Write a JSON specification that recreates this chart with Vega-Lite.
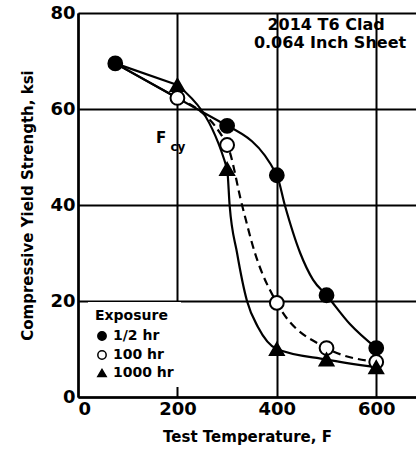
{
  "$schema": "https://vega.github.io/schema/vega-lite/v6.json",
  "width": 338,
  "height": 384,
  "autosize": {"type": "none"},
  "padding": {"left": 78, "top": 13, "right": 0, "bottom": 53},
  "background": "white",
  "config": {
    "view": {"stroke": null},
    "font": "DejaVu Sans"
  },
  "datasets": {
    "pts": [
      {"t": 75, "s": 69.5, "exp": "1/2 hr"},
      {"t": 300, "s": 56.5, "exp": "1/2 hr"},
      {"t": 400, "s": 46.2, "exp": "1/2 hr"},
      {"t": 500, "s": 21.2, "exp": "1/2 hr"},
      {"t": 600, "s": 10.2, "exp": "1/2 hr"},
      {"t": 200, "s": 62.3, "exp": "100 hr"},
      {"t": 300, "s": 52.5, "exp": "100 hr"},
      {"t": 400, "s": 19.6, "exp": "100 hr"},
      {"t": 500, "s": 10.2, "exp": "100 hr"},
      {"t": 600, "s": 7.3, "exp": "100 hr"},
      {"t": 200, "s": 65, "exp": "1000 hr"},
      {"t": 300, "s": 47.5, "exp": "1000 hr"},
      {"t": 400, "s": 10, "exp": "1000 hr"},
      {"t": 500, "s": 7.8, "exp": "1000 hr"},
      {"t": 600, "s": 6.2, "exp": "1000 hr"}
    ],
    "seg": [
      {"t": 75, "s": 69.5, "grp": "a"},
      {"t": 300, "s": 56.5, "grp": "a"},
      {"t": 75, "s": 69.5, "grp": "b"},
      {"t": 200, "s": 62.3, "grp": "b"},
      {"t": 75, "s": 69.5, "grp": "c"},
      {"t": 200, "s": 65, "grp": "c"}
    ],
    "solid": [
      {"t": 300, "s": 56.5, "grp": "a"},
      {"t": 400, "s": 46.2, "grp": "a"},
      {"t": 416, "s": 40, "grp": "a"},
      {"t": 447, "s": 30, "grp": "a"},
      {"t": 473, "s": 24.4, "grp": "a"},
      {"t": 500, "s": 21.2, "grp": "a"},
      {"t": 547, "s": 15.2, "grp": "a"},
      {"t": 600, "s": 10.2, "grp": "a"},
      {"t": 200, "s": 65, "grp": "c"},
      {"t": 300, "s": 47.5, "grp": "c"},
      {"t": 305, "s": 40, "grp": "c"},
      {"t": 320, "s": 30, "grp": "c"},
      {"t": 340, "s": 20, "grp": "c"},
      {"t": 362, "s": 14.6, "grp": "c"},
      {"t": 400, "s": 10, "grp": "c"},
      {"t": 500, "s": 7.8, "grp": "c"},
      {"t": 600, "s": 6.2, "grp": "c"}
    ],
    "dashed": [
      {"t": 200, "s": 62.3},
      {"t": 300, "s": 52.5},
      {"t": 330, "s": 40},
      {"t": 356, "s": 30},
      {"t": 400, "s": 19.6},
      {"t": 500, "s": 10.2},
      {"t": 600, "s": 7.3}
    ],
    "notes": [
      {"t": 499, "s": 77.5, "label": "2014 T6 Clad", "size": 16},
      {"t": 507, "s": 73.7, "label": "0.064 Inch Sheet", "size": 16},
      {"t": 167, "s": 54, "label": "F", "size": 15},
      {"t": 201, "s": 52.1, "label": "cy", "size": 12}
    ]
  },
  "layer": [
    {
      "data": {"name": "seg"},
      "mark": {"type": "line", "interpolate": "linear", "color": "black", "strokeWidth": 2.2},
      "encoding": {
        "x": {"field": "t", "type": "quantitative", "scale": {"domain": [0, 680], "nice": false},
          "axis": {"values": [0, 200, 400, 600], "title": "Test Temperature, F", "grid": true, "gridColor": "black", "gridWidth": 2, "gridOpacity": 1,
            "domainColor": "black", "domainWidth": 2.5, "ticks": false, "labelFontSize": 18, "labelFontWeight": "bold", "labelColor": "black", "labelPadding": 3,
            "titleFontSize": 15, "titleFontWeight": "bold", "titleColor": "black", "titlePadding": 11}},
        "y": {"field": "s", "type": "quantitative", "scale": {"domain": [0, 80], "nice": false},
          "axis": {"values": [0, 20, 40, 60, 80], "title": "Compressive Yield Strength, ksi", "grid": true, "gridColor": "black", "gridWidth": 2, "gridOpacity": 1,
            "domainColor": "black", "domainWidth": 2.5, "ticks": false, "labelFontSize": 18, "labelFontWeight": "bold", "labelColor": "black", "labelPadding": 3,
            "titleFontSize": 15, "titleFontWeight": "bold", "titleColor": "black", "titlePadding": 14}},
        "detail": {"field": "grp"}
      }
    },
    {
      "data": {"name": "solid"},
      "mark": {"type": "line", "interpolate": "monotone", "color": "black", "strokeWidth": 2.2},
      "encoding": {
        "x": {"field": "t", "type": "quantitative"},
        "y": {"field": "s", "type": "quantitative"},
        "detail": {"field": "grp"}
      }
    },
    {
      "data": {"name": "dashed"},
      "mark": {"type": "line", "interpolate": "monotone", "color": "black", "strokeWidth": 2.2, "strokeDash": [8, 5]},
      "encoding": {
        "x": {"field": "t", "type": "quantitative"},
        "y": {"field": "s", "type": "quantitative"}
      }
    },
    {
      "data": {"name": "pts"},
      "mark": {"type": "point", "filled": true, "stroke": "black", "strokeWidth": 2, "opacity": 1, "size": 190},
      "encoding": {
        "x": {"field": "t", "type": "quantitative"},
        "y": {"field": "s", "type": "quantitative"},
        "shape": {"field": "exp", "type": "nominal", "title": "Exposure",
          "scale": {"domain": ["1/2 hr", "100 hr", "1000 hr"], "range": ["circle", "circle", "triangle-up"]},
          "legend": {"orient": "bottom-left", "offset": 10, "padding": 7, "fillColor": "white",
            "titleFontSize": 14, "titleFontWeight": "bold", "titleColor": "black", "titlePadding": 6,
            "labelFontSize": 14, "labelFontWeight": "bold", "labelColor": "black",
            "symbolSize": 70, "rowPadding": 3,
            "encode": {"legend": {"update": {"fill": {"value": "white"}}},
              "symbols": {"update": {"stroke": {"value": "black"}, "strokeWidth": {"value": 2}}}}}},
        "fill": {"field": "exp", "type": "nominal", "title": "Exposure",
          "scale": {"domain": ["1/2 hr", "100 hr", "1000 hr"], "range": ["black", "white", "black"]},
          "legend": {"orient": "bottom-left", "offset": 10, "padding": 7, "fillColor": "white",
            "titleFontSize": 14, "titleFontWeight": "bold", "titleColor": "black", "titlePadding": 6,
            "labelFontSize": 14, "labelFontWeight": "bold", "labelColor": "black",
            "symbolSize": 70, "rowPadding": 3,
            "encode": {"legend": {"update": {"fill": {"value": "white"}}},
              "symbols": {"update": {"stroke": {"value": "black"}, "strokeWidth": {"value": 2}}}}}}
      }
    },
    {
      "data": {"name": "notes"},
      "mark": {"type": "text", "fontWeight": "bold", "color": "black", "align": "center", "baseline": "middle"},
      "encoding": {
        "x": {"field": "t", "type": "quantitative"},
        "y": {"field": "s", "type": "quantitative"},
        "text": {"field": "label"},
        "size": {"field": "size", "type": "quantitative", "scale": null}
      }
    }
  ]
}
